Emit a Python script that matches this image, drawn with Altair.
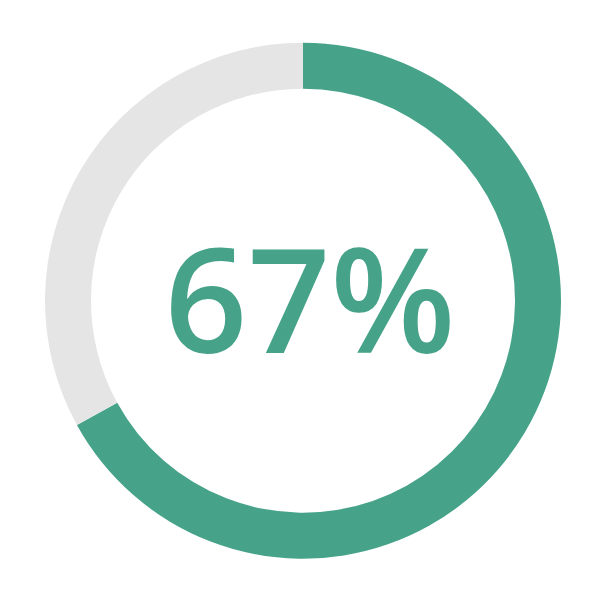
import altair as alt
import pandas as pd

categories = ["complete", "remaining"]
values = [67, 33]
order_idx = [0, 1]
label = ["67%"]

df = pd.DataFrame({"category": categories, "value": values, "idx": order_idx})
tdf = pd.DataFrame({"label": label})

arc = alt.Chart(df).mark_arc(innerRadius=212, outerRadius=258, stroke=None).encode(
    theta=alt.Theta("value:Q", stack=True),
    order=alt.Order("idx:Q"),
    color=alt.Color("category:N",
                    scale=alt.Scale(domain=categories, range=["#46A389", "#E5E5E5"]),
                    legend=None),
    x=alt.value(295),
    y=alt.value(292.7),
)

text = alt.Chart(tdf).mark_text(
    font="Open Sans", fontWeight=600, fontSize=145, color="#46A389",
    align="center", baseline="alphabetic"
).encode(
    text="label:N",
    x=alt.value(302),
    y=alt.value(345),
)

chart = alt.layer(arc, text).properties(
    width=584, height=584, padding=0
).configure_view(stroke=None)

chart.save("out.html", embed_options={"renderer": "svg", "actions": False})
